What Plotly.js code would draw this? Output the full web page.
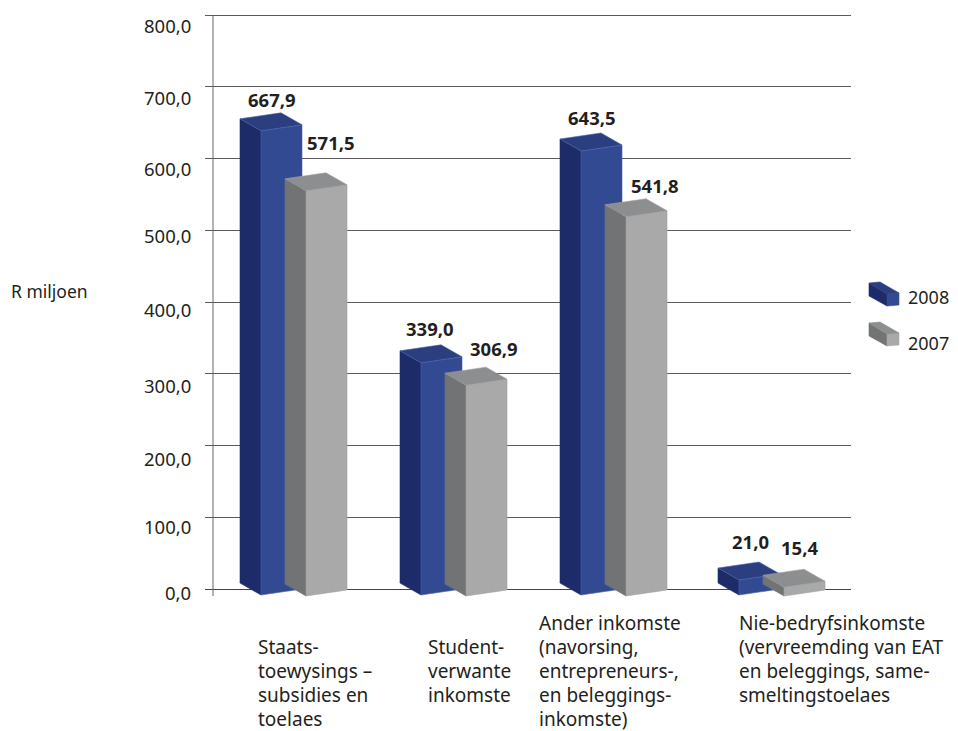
<!DOCTYPE html>
<html><head><meta charset="utf-8">
<script src="https://cdn.plot.ly/plotly-3.0.1.min.js"></script>
<style>html,body{margin:0;padding:0;background:#fff}#c{width:958px;height:731px}</style>
</head><body><div id="c"></div>
<script>
var categories = ["Staats-<br>toewysings –<br>subsidies en<br>toelaes","Student-<br>verwante<br>inkomste","Ander inkomste<br>(navorsing,<br>entrepreneurs-,<br>en beleggings-<br>inkomste)","Nie-bedryfsinkomste<br>(vervreemding van EAT<br>en beleggings, same-<br>smeltingstoelaes"];
var values2008 = [667.9, 339.0, 643.5, 21.0];
var values2007 = [571.5, 306.9, 541.8, 15.4];
var labels2008 = ["667,9","339,0","643,5","21,0"];
var labels2007 = ["571,5","306,9","541,8","15,4"];
var tickValues = [0,100,200,300,400,500,600,700,800];
var tickLabels = ["0,0","100,0","200,0","300,0","400,0","500,0","600,0","700,0","800,0"];
var seriesNames = ["2008","2007"];
var yTitle = "R miljoen";

// layout helpers: the bars' drawn height in the source is not strictly proportional
var W=958,H=731,L=205,R=851,T=12,B=589;
var PX=0.7175;
var scale2008=[.695,.685,.69,.714], scale2007=[.709,.687,.70,.57];
function Y(py){return (B-py)/PX;}
var FONT='"Noto Sans", sans-serif', INK='#231f20';
var front2008=[261,421,581,739], front2007=[306,466,626,784];
var blue={front:'#324a92',side:'#1d2c68',top:'#2b3f80',edge:'#4a62a8'};
var gray={front:'#a9a9a9',side:'#727374',top:'#8d8e8f',edge:'#a0a0a0'};
var traces=[{type:'scatter',x:[],y:[],xaxis:'x',yaxis:'y',showlegend:false,hoverinfo:'skip'}];
function poly(pts,color,edge){
  traces.push({type:'scatter',mode:'lines',fill:'toself',fillcolor:color,xaxis:'x2',yaxis:'y2',hoverinfo:'skip',showlegend:false,
    x:pts.map(function(p){return p[0];}).concat(pts[0][0]),
    y:pts.map(function(p){return Y(p[1]);}).concat(Y(pts[0][1])),
    line:{color:edge,width:0.6}});
}
function bar(fl,yb,h,c){
  var w=41, d=21, s=6, e=12;
  poly([[fl-d,yb-e],[fl,yb],[fl,yb-h],[fl-d,yb-e-h]],c.side,c.side);
  poly([[fl,yb],[fl+w,yb-s],[fl+w,yb-s-h],[fl,yb-h]],c.front,c.edge);
  poly([[fl-d,yb-e-h],[fl,yb-h],[fl+w,yb-s-h],[fl+w-d,yb-s-e-h]],c.top,c.edge);
}
for(var i=0;i<categories.length;i++){
  bar(front2008[i],595,values2008[i]*scale2008[i],blue);
  bar(front2007[i],596,values2007[i]*scale2007[i],gray);
}
function key(top,c){
  poly([[869,top+14],[887,top+24],[887,top+12],[869,top+1]],c.side,c.side);
  poly([[887,top+24],[899,top+23],[899,top+11],[887,top+12]],c.front,c.front);
  poly([[869,top+1],[887,top+12],[899,top+11],[880,top]],c.top,c.top);
}
key(282,blue); key(322,gray);

var ann=[];
function txt(x,y,t,size,anchor,weight){
  ann.push({xref:'x2',yref:'y2',x:x,y:Y(y),text:t,showarrow:false,xanchor:anchor||'center',yanchor:'middle',borderpad:0,
    font:{family:FONT,size:size,color:INK,weight:weight||400}});
}
var tickY=[592,526,458,385,309,235,168,97,25];
tickLabels.forEach(function(t,i){txt(192,tickY[i],t,18.5,'right');});
txt(10,291,yTitle,17.5,'left');
var lx8=[272,430,592,750], ly8=[99,328,117,541];
var lx7=[331,494,655,799], ly7=[142,348,185,547];
labels2008.forEach(function(t,i){txt(lx8[i],ly8[i],t,18.5,'center',700);});
labels2007.forEach(function(t,i){txt(lx7[i],ly7[i],t,18.5,'center',700);});
var cx=[257,427,538,738], cy=[646.5,646.5,622.5,622.5];
categories.forEach(function(t,i){
  t.split('<br>').forEach(function(line,j){txt(cx[i],cy[i]+24*j,line,19,'left');});
});
txt(907,297,seriesNames[0],18,'left');
txt(907,343,seriesNames[1],18,'left');

var layout={width:W,height:H,margin:{l:0,r:0,t:0,b:0,pad:0},paper_bgcolor:'#fff',plot_bgcolor:'rgba(0,0,0,0)',showlegend:false,
  xaxis:{domain:[L/W,R/W],range:[L,R],visible:false,fixedrange:true,anchor:'y'},
  yaxis:{domain:[(H-B)/H,(H-T)/H],range:[0,Y(T)],anchor:'x',tickvals:tickValues,showticklabels:false,ticks:'',showgrid:true,gridcolor:'#5a5a5a',gridwidth:1,zeroline:true,zerolinecolor:'#444',zerolinewidth:1,showline:false,fixedrange:true},
  xaxis2:{domain:[0,1],range:[0,W],visible:false,fixedrange:true,anchor:'y2'},
  yaxis2:{domain:[0,1],range:[Y(H),Y(0)],visible:false,fixedrange:true,anchor:'x2'},
  shapes:[{type:'line',xref:'x2',yref:'y2',x0:213,x1:213,y0:Y(15),y1:Y(596),line:{color:'#666',width:1},layer:'below'}],
  annotations:ann};
Plotly.newPlot('c',traces,layout,{displayModeBar:false,staticPlot:true});
</script></body></html>
